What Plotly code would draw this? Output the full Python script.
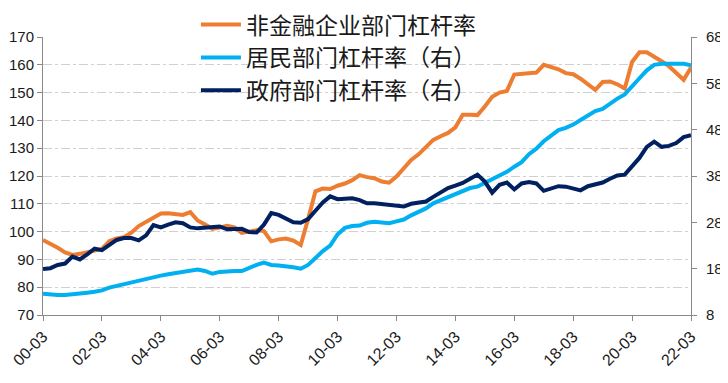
import plotly.graph_objects as go

# quarterly labels 2000-03 ... 2022-03
quarters = [f"{y:02d}-{m:02d}" for y in range(0, 23) for m in (3, 6, 9, 12)][:89]
tick_labels = ["00-03", "02-03", "04-03", "06-03", "08-03", "10-03",
               "12-03", "14-03", "16-03", "18-03", "20-03", "22-03"]

corp = [97, 95.8, 94.2, 92.5, 91.6, 92, 92.7, 93.2, 93.8, 96.5,
        97.5, 98, 99.6, 102, 103.6, 105, 106.5, 106.6, 106.2, 106,
        107, 104, 102.6, 101, 101.5, 102.1, 101.5, 99.5, 100, 100.5,
        100.2, 96.5, 97.2, 97.5, 96.8, 95.2, 104.5, 114.5, 115.5, 115.3,
        116.5, 117.3, 118.5, 120.3, 119.6, 119.2, 118, 117.6, 119.8, 123,
        125.8, 127.8, 130.5, 133, 134.3, 135.5, 137.5, 142, 142, 141.9,
        145, 148.5, 150, 150.6, 156.5, 156.8, 156.9, 157.2, 160, 159.2,
        158.4, 157, 156.6, 155, 153, 151, 153.8, 154, 153, 151.5,
        161, 164.5, 164.5, 163, 161.3, 159.5, 157.2, 154.6, 159]

household = [12.6, 12.4, 12.3, 12.3, 12.4, 12.6, 12.8, 13.0, 13.3, 13.9,
             14.3, 14.6, 15.0, 15.4, 15.8, 16.2, 16.5, 16.8, 17.1, 17.2,
             17.6, 17.8, 17.5, 16.9, 17.3, 17.5, 17.5, 17.5, 18.2, 18.8,
             19.3, 18.8, 18.7, 18.6, 18.3, 18.0, 18.8, 20.3, 21.8, 23.0,
             25.4, 26.8, 27.2, 27.3, 27.9, 28.1, 28.0, 27.8, 28.2, 28.6,
             29.5, 30.3, 31.0, 32.1, 32.8, 33.4, 34.2, 34.9, 35.4, 35.7,
             36.5, 37.2, 38.0, 38.9, 40.0, 41.0, 42.7, 43.9, 45.5, 46.6,
             47.9, 48.4, 49.1, 50.1, 51.1, 52.0, 52.5, 53.7, 54.7, 55.6,
             57.2, 59.1, 60.8, 62.0, 62.2, 62.2, 62.2, 62.2, 61.9]

government = [17.9, 18.1, 18.8, 19.1, 20.6, 20.0, 21.1, 22.3, 22.0, 23.2,
              24.2, 24.6, 24.6, 24.1, 25.2, 27.4, 26.9, 27.5, 28.0, 27.8,
              26.9, 26.7, 26.9, 27.1, 27.1, 26.5, 26.5, 26.6, 25.9, 25.8,
              27.5, 30.0, 29.6, 28.9, 28.0, 27.9, 28.7, 30.5, 32.3, 33.6,
              33.0, 33.1, 33.2, 32.8, 32.1, 32.1, 31.9, 31.7, 31.5, 31.4,
              32.0, 32.2, 32.5, 33.5, 34.4, 35.4, 35.9, 36.5, 37.4, 38.3,
              36.8, 34.4, 36.1, 36.6, 35.1, 36.4, 36.7, 36.4, 34.8, 35.2,
              35.8, 35.7, 35.3, 34.9, 35.8, 36.1, 36.6, 37.4, 38.1, 38.3,
              40.1, 41.9, 44.3, 45.4, 44.3, 44.5, 45.1, 46.4, 46.8]

names = ["非金融企业部门杠杆率", "居民部门杠杆率（右）", "政府部门杠杆率（右）"]
colors = ["#ED7D31", "#00B0F0", "#002060"]

x = list(range(len(quarters)))
fig = go.Figure()
fig.add_trace(go.Scatter(x=x, y=corp, name=names[0], mode="lines",
                         line=dict(color=colors[0], width=4), customdata=quarters))
fig.add_trace(go.Scatter(x=x, y=household, name=names[1], mode="lines", yaxis="y2",
                         line=dict(color=colors[1], width=4), customdata=quarters))
fig.add_trace(go.Scatter(x=x, y=government, name=names[2], mode="lines", yaxis="y2",
                         line=dict(color=colors[2], width=4), customdata=quarters))

tick_font = dict(family="Liberation Sans, Arial", size=15, color="#1a1a1a")
xtick_font = dict(family="Liberation Sans, Arial", size=16, color="#1a1a1a")
# page body adds an 8px margin, so the figure is 720x375
fig.update_layout(
    width=720, height=375,
    margin=dict(l=35, r=37, t=29, b=68, autoexpand=False),
    paper_bgcolor="white", plot_bgcolor="white",
    showlegend=True,
    legend=dict(x=0.236, y=1.122, xanchor="left", yanchor="top",
                bgcolor="rgba(0,0,0,0)",
                font=dict(family="Noto Sans CJK SC", size=23, color="#1a1a1a"),
                itemwidth=40, tracegroupgap=0),
    xaxis=dict(range=[0, len(quarters) - 1], automargin=False,
               tickvals=[quarters.index(t) for t in tick_labels], ticktext=tick_labels,
               tickangle=-45, ticks="outside", ticklen=5, tickcolor="#898989",
               showline=True, linecolor="#898989", linewidth=1,
               showgrid=False, zeroline=False, tickfont=xtick_font),
    yaxis=dict(range=[70, 170], dtick=10, tick0=70, automargin=False,
               ticks="outside", ticklen=5, tickcolor="#898989",
               showline=True, linecolor="#898989", linewidth=1,
               showgrid=True, gridcolor="#d0d0d0", griddash="dashdot", gridwidth=1,
               zeroline=False, tickfont=tick_font),
    yaxis2=dict(range=[8, 68], dtick=10, tick0=8, overlaying="y", side="right",
                automargin=False, ticklabelstandoff=6,
                ticks="outside", ticklen=5, tickcolor="#898989",
                showline=True, linecolor="#898989", linewidth=1,
                showgrid=False, zeroline=False, tickfont=tick_font),
)
fig.write_html("out.html")
